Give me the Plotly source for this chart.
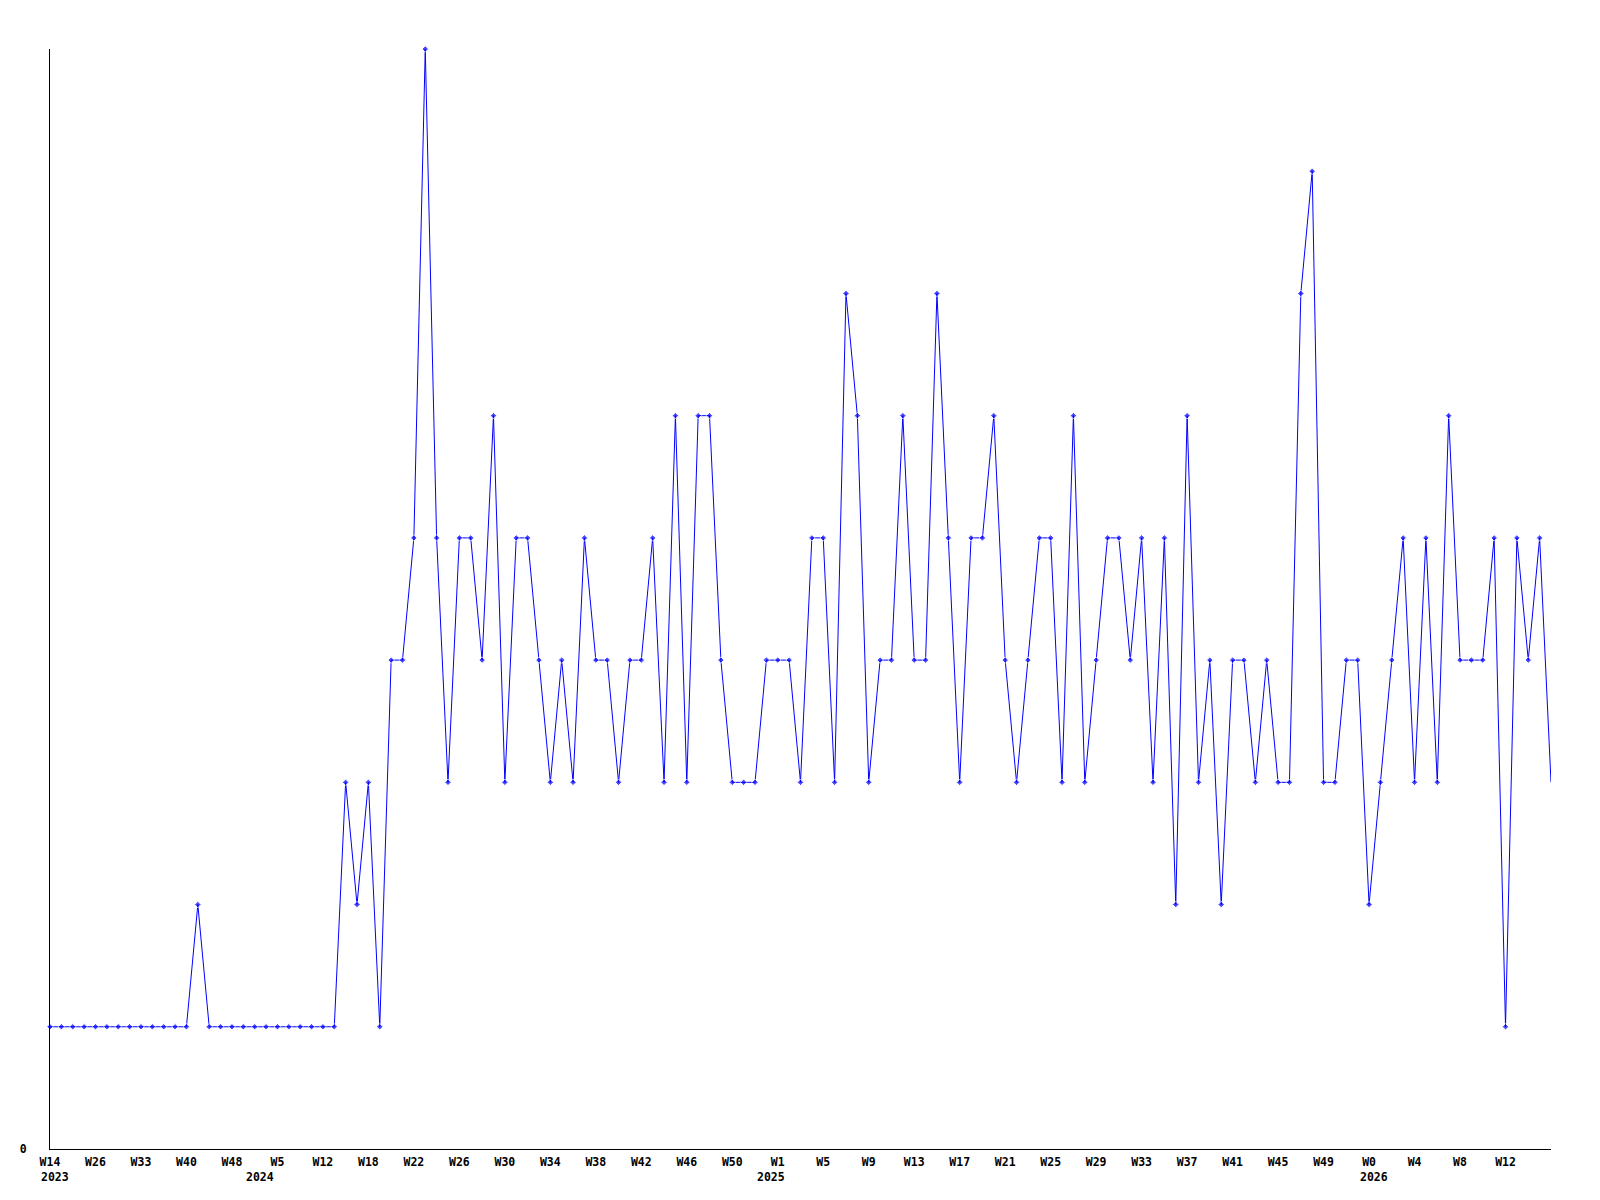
import plotly.graph_objects as go

# Series values, one per week (index 0..132)
values = [
    1, 1, 1, 1, 1, 1, 1, 1, 1, 1, 1, 1, 1, 2, 1, 1, 1, 1, 1, 1,
    1, 1, 1, 1, 1, 1, 3, 2, 3, 1, 4, 4, 5, 9, 5, 3, 5, 5, 4, 6,
    3, 5, 5, 4, 3, 4, 3, 5, 4, 4, 3, 4, 4, 5, 3, 6, 3, 6, 6, 4,
    3, 3, 3, 4, 4, 4, 3, 5, 5, 3, 7, 6, 3, 4, 4, 6, 4, 4, 7, 5,
    3, 5, 5, 6, 4, 3, 4, 5, 5, 3, 6, 3, 4, 5, 5, 4, 5, 3, 5, 2,
    6, 3, 4, 2, 4, 4, 3, 4, 3, 3, 7, 8, 3, 3, 4, 4, 2, 3, 4, 5,
    3, 5, 3, 6, 4, 4, 4, 5, 1, 5, 4, 5, 3,
]

# Week tick labels (every 4th point)
week_labels = [
    "W14", "W26", "W33", "W40", "W48", "W5", "W12", "W18", "W22", "W26",
    "W30", "W34", "W38", "W42", "W46", "W50", "W1", "W5", "W9", "W13",
    "W17", "W21", "W25", "W29", "W33", "W37", "W41", "W45", "W49", "W0",
    "W4", "W8", "W12",
]
week_tick_step = 4

# Year labels and the point index where each year begins
years = ["2023", "2024", "2025", "2026"]
year_index = [0, 18, 63, 116]

x = list(range(len(values)))
tickvals = [i * week_tick_step for i in range(len(week_labels))]

marker_sizes = [5] * (len(values) - 1) + [0]

font_family = "DejaVu Sans Mono"
font_size = 11.5

fig = go.Figure()
fig.add_trace(go.Scatter(
    x=x,
    y=values,
    mode="lines+markers",
    line=dict(color="#0000FF", width=1),
    marker=dict(symbol="diamond", size=marker_sizes, color="#0000FF"),
    cliponaxis=False,
    showlegend=False,
    hoverinfo="x+y",
))

for yr, idx in zip(years, year_index):
    fig.add_annotation(
        x=idx, xref="x", y=0, yref="paper",
        text=f"<b>{yr}</b>", showarrow=False,
        xanchor="left", yanchor="middle",
        xshift=-11, yshift=-28,
        font=dict(family=font_family, size=font_size, color="black"),
    )

fig.update_layout(
    width=1600, height=1200, autosize=False,
    margin=dict(l=42, r=57, t=41, b=59),
    paper_bgcolor="white", plot_bgcolor="white",
    font=dict(family=font_family, size=font_size, color="black"),
)
fig.update_xaxes(
    range=[0, len(values) - 1],
    tickmode="array", tickvals=tickvals,
    ticktext=[f"<b>{t}</b>" for t in week_labels],
    showgrid=False, zeroline=False,
    showline=True, linecolor="black", linewidth=1,
    ticks="", tickangle=0, ticklabelstandoff=2,
    tickfont=dict(family=font_family, size=font_size, color="black"),
)
fig.update_yaxes(
    range=[0, 9],
    tickmode="array", tickvals=[0], ticktext=["<b>0</b>"],
    showgrid=False, zeroline=False,
    showline=True, linecolor="black", linewidth=1,
    ticks="", ticklabelstandoff=20,
    tickfont=dict(family=font_family, size=font_size, color="black"),
)

fig.write_html("out.html")
